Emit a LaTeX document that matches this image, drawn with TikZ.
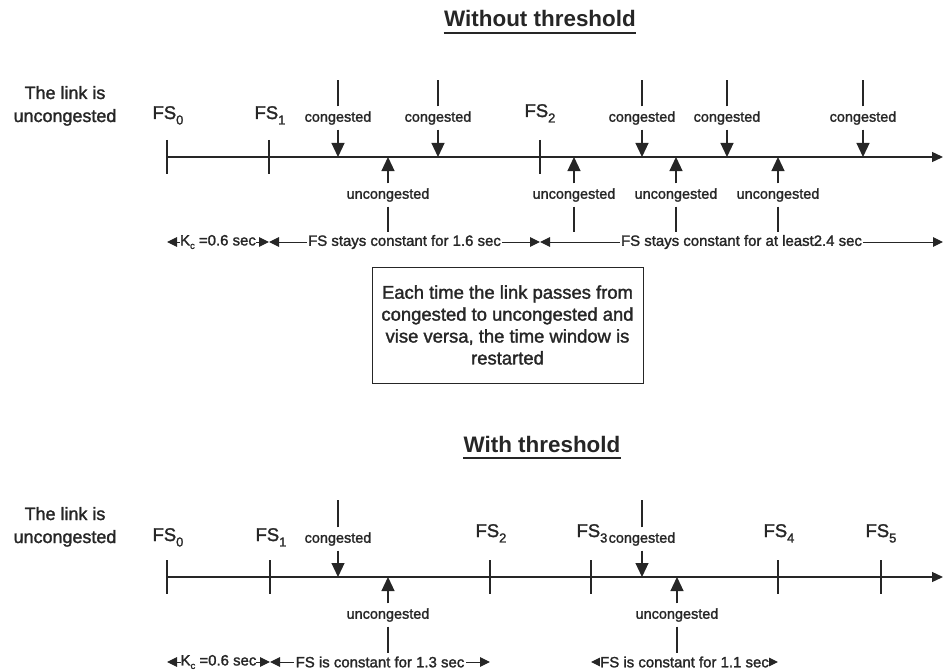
\documentclass[tikz,border=0pt]{standalone}
\usepackage{fontspec}
\setmainfont{Liberation Sans}
\newfontfamily\heavy{Liberation Sans}[FakeBold=1.6]
\usetikzlibrary{arrows.meta}
\definecolor{ink}{HTML}{262626}
\newcommand{\fsl}[1]{FS\raisebox{-5.5pt}{\fontsize{13}{12}\selectfont #1}}
\newcommand{\kc}{K\raisebox{-3.5pt}{\fontsize{9.5}{9}\selectfont c}}
\begin{document}
\begin{tikzpicture}[x=1bp, y=-1bp, color=ink, line width=1.2bp,
  axis/.style={line width=1.3bp, -{Triangle[length=11bp,width=10bp]}},
  tickmark/.style={line width=1.3bp},
  evt/.style={font=\heavy\fontsize{14.5}{16}\selectfont, inner xsep=0pt, inner ysep=4.3bp,
    text height=10.5bp, text depth=3bp},
  downarrow/.style={-{Triangle[length=14bp,width=13bp]}},
  uparrow/.style={-{Triangle[length=14bp,width=13bp]}},
  span/.style={line width=1bp,
    {Triangle[length=10bp,width=9.5bp]}-{Triangle[length=10bp,width=9.5bp]}},
  spantext/.style={fill=white, inner xsep=1.5bp, inner ysep=1bp,
    font=\heavy\fontsize{15}{17}\selectfont},
  fslabel/.style={anchor=base west, inner sep=0pt, font=\heavy\fontsize{18.5}{20}\selectfont},
  linklabel/.style={anchor=base, inner sep=0pt, font=\heavy\fontsize{18}{20}\selectfont},
  heading/.style={anchor=base, inner sep=0pt, font=\bfseries\fontsize{22.5}{24}\selectfont},
  underbar/.style={line width=1.6bp},
  note/.style={draw, line width=1bp, minimum width=271bp, minimum height=116bp,
    align=center, font=\heavy\fontsize{18.5}{22}\selectfont}
]
\path[use as bounding box] (0,0) rectangle (943,671);

% ---------------- Without threshold ----------------
\node[heading] (h1) at (540,27) {Without threshold};
\draw[underbar] ([yshift=-6bp]h1.base west) -- ([yshift=-6bp]h1.base east);

\node[linklabel] (la1) at (65,99) {The link is};
\node[linklabel] (la2) at (65,122) {uncongested};

\coordinate (A0) at (167,157);
\coordinate (Aend) at (943,157);
\draw[axis] (A0) -- (Aend);

\foreach \x/\n in {167/0,269/1,540/2} {
  \coordinate (AT\n) at (\x,157);
  \draw[tickmark] (AT\n) ++(0,-17) -- ++(0,34);
}
\node[fslabel] (afs0) at (152,119) {\fsl{0}};
\node[fslabel] (afs1) at (254,119) {\fsl{1}};
\node[fslabel] (afs2) at (524,117) {\fsl{2}};

\foreach \x [count=\i] in {338,438,642,727,863} {
  \node[evt] (ac\i) at (\x,118) {congested};
  \draw (ac\i.north) -- ++(0,-26);
  \draw[downarrow] (ac\i.south) -- (ac\i.south |- A0);
}
\foreach \x [count=\i] in {388,574,676,778} {
  \node[evt] (au\i) at (\x,195) {uncongested};
  \draw[uparrow] (au\i.north) -- (au\i.north |- A0);
  \draw (au\i.south) -- ++(0,25);
}

\coordinate (am0) at (167,242);
\coordinate (am1) at (269,242);
\coordinate (am2) at (540,242);
\coordinate (am3) at (943,242);
\draw[span] (am0) -- node[spantext, inner xsep=0pt] (ak) {\kc{} =0.6 sec} (am1);
\draw[span] (am1) -- node[spantext] (as1) {FS stays constant for 1.6 sec} (am2);
\draw[span] (am2) -- node[spantext] (as2) {FS stays constant for at least2.4 sec} (am3);

\node[note] (box) at (507.5,325) {Each time the link passes from\\congested to uncongested and\\vise versa, the time window is\\restarted};

% ---------------- With threshold ----------------
\node[heading] (h2) at (542,452) {With threshold};
\draw[underbar] ([yshift=-6bp]h2.base west) -- ([yshift=-6bp]h2.base east);

\node[linklabel] (lb1) at (65,520) {The link is};
\node[linklabel] (lb2) at (65,543) {uncongested};

\coordinate (B0) at (167,577);
\coordinate (Bend) at (943,577);
\draw[axis] (B0) -- (Bend);

\foreach \x/\n in {167/0,270/1,490/2,591/3,778/4,881/5} {
  \coordinate (BT\n) at (\x,577);
  \draw[tickmark] (BT\n) ++(0,-17) -- ++(0,34);
}
\node[fslabel] (bfs0) at (152,541) {\fsl{0}};
\node[fslabel] (bfs1) at (255,541) {\fsl{1}};
\node[fslabel] (bfs2) at (475,537) {\fsl{2}};
\node[fslabel] (bfs3) at (576,537) {\fsl{3}};
\node[fslabel] (bfs4) at (763,537) {\fsl{4}};
\node[fslabel] (bfs5) at (865,537) {\fsl{5}};

\foreach \x [count=\i] in {338,642} {
  \node[evt] (bc\i) at (\x,539) {congested};
  \draw (bc\i.north) -- ++(0,-27);
  \draw[downarrow] (bc\i.south) -- (bc\i.south |- B0);
}
\foreach \x [count=\i] in {388,677} {
  \node[evt] (bu\i) at (\x,615) {uncongested};
  \draw[uparrow] (bu\i.north) -- (bu\i.north |- B0);
  \draw (bu\i.south) -- ++(0,26);
}

\coordinate (bm0) at (167,662);
\coordinate (bm1) at (270,662);
\coordinate (bm2) at (490,662);
\coordinate (bm3) at (591,662);
\coordinate (bm4) at (778,662);
\draw[span] (bm0) -- node[spantext, inner xsep=0pt] (bk) {\kc{} =0.6 sec} (bm1);
\draw[span] (bm1) -- node[spantext] (bs1) {FS is constant for 1.3 sec} (bm2);
\draw[span] (bm3) -- node[spantext, inner xsep=0pt] (bs2) {FS is constant for 1.1 sec} (bm4);
\end{tikzpicture}
\end{document}
